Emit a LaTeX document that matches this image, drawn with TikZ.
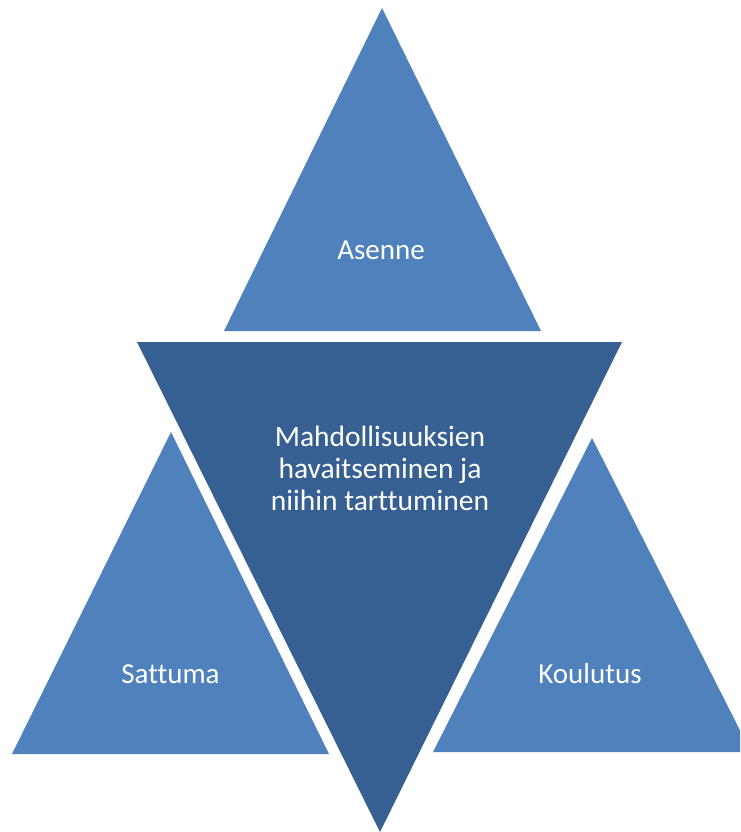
\documentclass[tikz,border=0pt]{standalone}
\usepackage{fontspec}
\setmainfont{Carlito}[Ligatures={NoCommon}]
\definecolor{lightblue}{HTML}{4F81BD}
\definecolor{darkblue}{HTML}{376092}
\begin{document}
\begin{tikzpicture}[x=1pt,y=-1pt,
  lighttri/.style={fill=lightblue},
  darktri/.style={fill=darkblue},
  lbl/.style={text=white,font=\fontsize{29}{32}\selectfont,inner sep=0pt,anchor=base}]
\useasboundingbox (0,0) rectangle (740,832);
\begin{scope}
\clip (0,0) rectangle (740,832);
% top triangle
\fill[lighttri] (382,8) -- (541,331) -- (224,331) -- cycle;
% left triangle
\fill[lighttri] (171,432) -- (329,754) -- (12,754) -- cycle;
% right triangle
\fill[lighttri] (592,438) -- (751,752) -- (433,752) -- cycle;
% center inverted triangle
\fill[darktri] (137,342) -- (622,342) -- (380,832) -- cycle;
\end{scope}
\node[lbl] (asenne) at (381,259) {Asenne};
\node[lbl] (sattuma) at (170.5,683) {Sattuma};
\node[lbl] (koulutus) at (590,683) {Koulutus};
\node[text=white,font=\fontsize{29.5}{32}\selectfont,inner sep=0pt,align=center] (center) at (380,468) {Mahdollisuuksien\\havaitseminen ja\\niihin tarttuminen};
\end{tikzpicture}
\end{document}
